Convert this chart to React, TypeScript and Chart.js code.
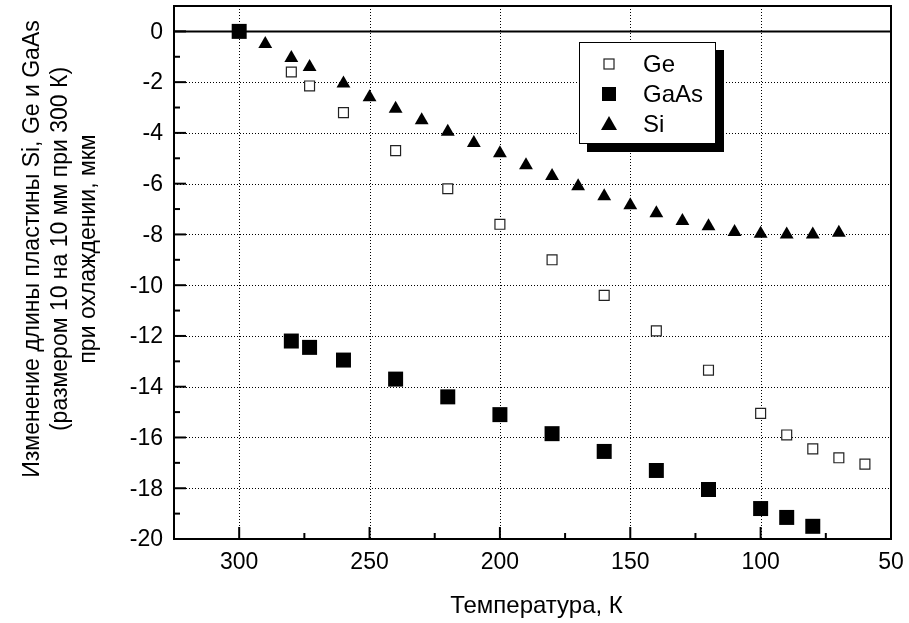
import React, { useEffect, useRef } from "react";
import { Chart, registerables } from "chart.js";

Chart.register(...registerables);

// ---- data ----
const geTemps = [280, 273, 260, 240, 220, 200, 180, 160, 140, 120, 100, 90, 80, 70, 60];
const geValues = [-1.6, -2.15, -3.2, -4.7, -6.2, -7.6, -9.0, -10.4, -11.8, -13.35, -15.05, -15.9, -16.45, -16.8, -17.05];

const gaAsTemps = [300, 280, 273, 260, 240, 220, 200, 180, 160, 140, 120, 100, 90, 80];
const gaAsValues = [0, -12.2, -12.45, -12.95, -13.7, -14.4, -15.1, -15.85, -16.55, -17.3, -18.05, -18.8, -19.15, -19.5];

const siTemps = [290, 280, 273, 260, 250, 240, 230, 220, 210, 200, 190, 180, 170, 160, 150, 140, 130, 120, 110, 100, 90, 80, 70];
const siValues = [-0.5, -1.05, -1.4, -2.05, -2.6, -3.05, -3.5, -3.95, -4.4, -4.8, -5.27, -5.7, -6.1, -6.5, -6.85, -7.17, -7.47, -7.68, -7.9, -7.97, -8.0, -8.0, -7.93];

const xMajorTicks = [300, 250, 200, 150, 100, 50];
const xMinorTicks = [275, 225, 175, 125, 75];
const yMajorTicks = [0, -2, -4, -6, -8, -10, -12, -14, -16, -18, -20];
const yMinorTicks = [-1, -3, -5, -7, -9, -11, -13, -15, -17, -19];

const seriesNames = ["Ge", "GaAs", "Si"];
const xTitle = "Температура, К";
const yTitleLines = [
  "Изменение длины пластины Si, Ge и GaAs",
  "(размером 10 на 10 мм при 300 К)",
  "при охлаждении, мкм",
];

const FONT = "'Liberation Sans', Arial, sans-serif";

const toPoints = (xs: number[], ys: number[]) => xs.map((x, i) => ({ x, y: ys[i] }));

const framePlugin = {
  id: "frame",
  beforeDatasetsDraw(chart: any) {
    const { ctx, chartArea: a, scales } = chart;
    const xs = scales.x;
    const ys = scales.y;
    ctx.save();
    // dotted grid
    ctx.strokeStyle = "#000";
    ctx.lineWidth = 1;
    ctx.setLineDash([1, 2]);
    xMajorTicks.forEach((v) => {
      const px = Math.round(xs.getPixelForValue(v)) + 0.5;
      if (px <= a.left + 2 || px >= a.right - 2) return;
      ctx.beginPath();
      ctx.moveTo(px, a.top);
      ctx.lineTo(px, a.bottom);
      ctx.stroke();
    });
    yMajorTicks.forEach((v) => {
      if (v === 0) return;
      const py = Math.round(ys.getPixelForValue(v)) + 0.5;
      if (py <= a.top + 2 || py >= a.bottom - 2) return;
      ctx.beginPath();
      ctx.moveTo(a.left, py);
      ctx.lineTo(a.right, py);
      ctx.stroke();
    });
    ctx.setLineDash([]);
    // zero line
    const y0 = ys.getPixelForValue(0);
    ctx.lineWidth = 2;
    ctx.beginPath();
    ctx.moveTo(a.left, y0);
    ctx.lineTo(a.right, y0);
    ctx.stroke();
    // ticks (inward)
    xMajorTicks.forEach((v) => {
      const px = xs.getPixelForValue(v);
      ctx.beginPath();
      ctx.moveTo(px, a.bottom);
      ctx.lineTo(px, a.bottom - 12);
      ctx.stroke();
    });
    xMinorTicks.forEach((v) => {
      const px = xs.getPixelForValue(v);
      ctx.beginPath();
      ctx.moveTo(px, a.bottom);
      ctx.lineTo(px, a.bottom - 6);
      ctx.stroke();
    });
    yMajorTicks.forEach((v) => {
      const py = ys.getPixelForValue(v);
      ctx.beginPath();
      ctx.moveTo(a.left, py);
      ctx.lineTo(a.left + 12, py);
      ctx.stroke();
    });
    yMinorTicks.forEach((v) => {
      const py = ys.getPixelForValue(v);
      ctx.beginPath();
      ctx.moveTo(a.left, py);
      ctx.lineTo(a.left + 6, py);
      ctx.stroke();
    });
    // border
    ctx.strokeRect(a.left, a.top, a.right - a.left, a.bottom - a.top);

    // tick labels
    ctx.fillStyle = "#000";
    ctx.font = `23px ${FONT}`;
    ctx.textBaseline = "middle";
    ctx.textAlign = "right";
    yMajorTicks.forEach((v) => {
      ctx.fillText(String(v), a.left - 11, ys.getPixelForValue(v) + 1);
    });
    ctx.textAlign = "center";
    xMajorTicks.forEach((v) => {
      ctx.fillText(String(v), xs.getPixelForValue(v), a.bottom + 24);
    });
    ctx.restore();
  },
  afterDraw(chart: any) {
    const { ctx, chartArea: a } = chart;
    ctx.save();
    // legend with shadow
    const bx = 579, by = 42, bw = 137, bh = 102;
    ctx.fillStyle = "#000";
    ctx.fillRect(bx + 8, by + 8, bw, bh);
    ctx.fillStyle = "#fff";
    ctx.fillRect(bx, by, bw, bh);
    ctx.strokeStyle = "#000";
    ctx.lineWidth = 1;
    ctx.strokeRect(bx + 0.5, by + 0.5, bw - 1, bh - 1);
    const mx = 609;
    const rows = [64, 94, 124];
    // Ge open square
    ctx.fillStyle = "#fff";
    ctx.strokeStyle = "#222";
    ctx.lineWidth = 1.2;
    ctx.fillRect(mx - 5, rows[0] - 5, 10, 10);
    ctx.strokeRect(mx - 5, rows[0] - 5, 10, 10);
    // GaAs filled square
    ctx.fillStyle = "#000";
    ctx.fillRect(mx - 7, rows[1] - 7, 14, 14);
    // Si triangle
    ctx.beginPath();
    ctx.moveTo(mx, rows[2] - 8);
    ctx.lineTo(mx + 8, rows[2] + 6);
    ctx.lineTo(mx - 8, rows[2] + 6);
    ctx.closePath();
    ctx.fill();
    ctx.font = `24px ${FONT}`;
    ctx.textAlign = "left";
    ctx.textBaseline = "middle";
    seriesNames.forEach((n, i) => ctx.fillText(n, 643, rows[i] + 1));

    // x title
    ctx.textAlign = "center";
    ctx.font = `24px ${FONT}`;
    ctx.fillText(xTitle, (a.left + a.right) / 2 + 4, 606);

    // y title
    ctx.font = `23px ${FONT}`;
    const cx = [33, 61, 89];
    yTitleLines.forEach((line, i) => {
      ctx.save();
      ctx.translate(cx[i], 249);
      ctx.rotate(-Math.PI / 2);
      ctx.fillText(line, 0, 0);
      ctx.restore();
    });
    ctx.restore();
  },
};

export default function App() {
  const ref = useRef<HTMLCanvasElement | null>(null);
  useEffect(() => {
    if (!ref.current) return;
    const chart = new Chart(ref.current, {
      type: "scatter",
      data: {
        datasets: [
          {
            label: seriesNames[0],
            data: toPoints(geTemps, geValues),
            pointStyle: "rect",
            pointRadius: 7,
            backgroundColor: "#fff",
            borderColor: "#222",
            borderWidth: 1.2,
          },
          {
            label: seriesNames[1],
            data: toPoints(gaAsTemps, gaAsValues),
            pointStyle: "rect",
            pointRadius: 10.6,
            backgroundColor: "#000",
            borderColor: "#000",
            borderWidth: 0,
          },
          {
            label: seriesNames[2],
            data: toPoints(siTemps, siValues),
            pointStyle: "triangle",
            pointRadius: 8,
            backgroundColor: "#000",
            borderColor: "#000",
            borderWidth: 0,
          },
        ],
      },
      options: {
        animation: false,
        responsive: true,
        maintainAspectRatio: false,
        layout: { autoPadding: false, padding: { top: 6, right: 18, left: 0, bottom: 0 } },
        plugins: { legend: { display: false }, tooltip: { enabled: false } },
        events: [],
        scales: {
          x: {
            type: "linear",
            min: 50,
            max: 325,
            reverse: true,
            grid: { display: false, drawTicks: false },
            border: { display: false },
            ticks: { display: false, stepSize: 50 },
            afterFit: (s: any) => {
              s.height = 84;
            },
          },
          y: {
            type: "linear",
            min: -20,
            max: 1,
            grid: { display: false, drawTicks: false },
            border: { display: false },
            ticks: { display: false, stepSize: 2 },
            afterFit: (s: any) => {
              s.width = 174;
            },
          },
        },
      },
      plugins: [framePlugin],
    } as any);
    return () => chart.destroy();
  }, []);
  return (
    <div style={{ position: "absolute", left: 0, top: 0, width: 909, height: 623, background: "#fff" }}>
      <canvas ref={ref} style={{ display: "block" }} />
    </div>
  );
}
